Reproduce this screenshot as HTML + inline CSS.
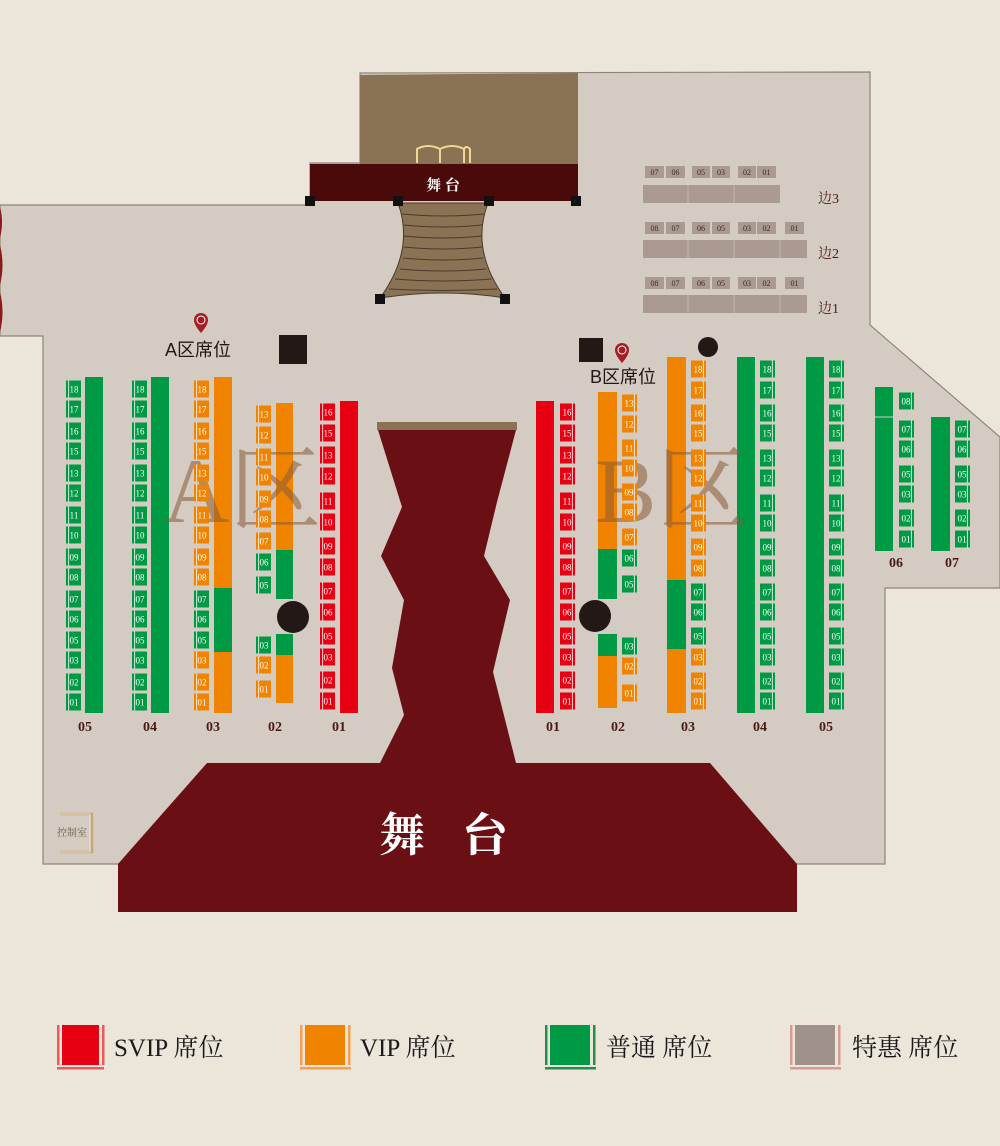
<!DOCTYPE html>
<html><head><meta charset="utf-8"><style>
html,body{margin:0;padding:0;background:#ece6da;}
svg{display:block}
</style></head><body>
<svg width="1000" height="1146" viewBox="0 0 1000 1146" xmlns="http://www.w3.org/2000/svg" font-family="'Liberation Serif','Noto Serif CJK SC',serif">
<defs>
<symbol id="L" overflow="visible"><rect x="0" y="0" width="15" height="17"/><rect x="2.2" y="0" width="0.9" height="17" fill="#fff" opacity="0.9"/></symbol>
<symbol id="R" overflow="visible"><rect x="0" y="0" width="15" height="17"/><rect x="11.9" y="0" width="0.9" height="17" fill="#fff" opacity="0.9"/></symbol>
</defs>
<rect width="1000" height="1146" fill="#ece6da"/>
<!-- floor -->
<polygon points="0,205 310,205 310,163 360,163 360,73 870,72 870,325 1000,437 1000,588 885,588 885,864 43,864 43,336 0,336" fill="#d4ccc3" stroke="#8e8479" stroke-width="1.2"/>
<!-- curtains left -->
<path d="M0,207 Q4,222 0,238 Z M0,245 Q5,265 0,285 Z M0,292 Q5,312 0,332 Z" fill="#8a1a1a"/>
<!-- upper stage -->
<polygon points="360,75 578,73 578,164 360,164" fill="#8a7355"/>
<g fill="none" stroke="#f0d890" stroke-width="2">
<path d="M417,163 V149 Q428,143 440,149 V163 M440,149 Q452,143 464,149 V163 M470,163 V149 Q466,145 464,149"/>
</g>
<rect x="310" y="164" width="268" height="37" fill="#4a0a0a"/>
<text x="443" y="190" fill="#fff" font-size="15" font-weight="bold" text-anchor="middle">舞 台</text>
<path d="M398,203 L488,203 Q470,250 505,298 Q443,288 380,298 Q415,250 398,203 Z" fill="#8a7355" stroke="#4a3a2a" stroke-width="1"/>
<g stroke="#4a3a2a" stroke-width="0.9" fill="none">
<path d="M402,214 Q443,218 484,214"/><path d="M404,225 Q443,229 482,225"/><path d="M404,236 Q443,240 482,236"/><path d="M404,247 Q443,251 482,247"/><path d="M403,258 Q443,262 483,258"/><path d="M400,269 Q443,273 486,269"/><path d="M395,279 Q443,283 491,279"/><path d="M389,289 Q443,292 497,289"/>
</g>
<g fill="#111"><rect x="305" y="196" width="10" height="10"/><rect x="571" y="196" width="10" height="10"/><rect x="393" y="196" width="10" height="10"/><rect x="484" y="196" width="10" height="10"/><rect x="375" y="294" width="10" height="10"/><rect x="500" y="294" width="10" height="10"/></g>
<!-- side rows -->
<g fill="#aa9a92">
<rect x="643" y="185" width="137" height="18"/>
<rect x="643" y="240" width="164" height="18"/>
<rect x="643" y="295" width="164" height="18"/>
</g>
<g stroke="#c9c0b8" stroke-width="0.8"><path d="M688,185V203M734,185V203M688,240V258M734,240V258M780,240V258M688,295V313M734,295V313M780,295V313"/></g>
<g fill="#aa9a92">
<rect x="645" y="166" width="19" height="12"/><rect x="666" y="166" width="19" height="12"/><rect x="692" y="166" width="18" height="12"/><rect x="712" y="166" width="18" height="12"/><rect x="738" y="166" width="18" height="12"/><rect x="757" y="166" width="19" height="12"/>
<rect x="645" y="222" width="19" height="12"/><rect x="666" y="222" width="19" height="12"/><rect x="692" y="222" width="18" height="12"/><rect x="712" y="222" width="18" height="12"/><rect x="738" y="222" width="18" height="12"/><rect x="757" y="222" width="19" height="12"/><rect x="785" y="222" width="19" height="12"/>
<rect x="645" y="277" width="19" height="12"/><rect x="666" y="277" width="19" height="12"/><rect x="692" y="277" width="18" height="12"/><rect x="712" y="277" width="18" height="12"/><rect x="738" y="277" width="18" height="12"/><rect x="757" y="277" width="19" height="12"/><rect x="785" y="277" width="19" height="12"/>
</g>
<g fill="#3a2a24" font-size="8" text-anchor="middle">
<text x="654.5" y="175">07</text><text x="675.5" y="175">06</text><text x="701" y="175">05</text><text x="721" y="175">03</text><text x="747" y="175">02</text><text x="766.5" y="175">01</text>
<text x="654.5" y="231">08</text><text x="675.5" y="231">07</text><text x="701" y="231">06</text><text x="721" y="231">05</text><text x="747" y="231">03</text><text x="766.5" y="231">02</text><text x="794.5" y="231">01</text>
<text x="654.5" y="286">08</text><text x="675.5" y="286">07</text><text x="701" y="286">06</text><text x="721" y="286">05</text><text x="747" y="286">03</text><text x="766.5" y="286">02</text><text x="794.5" y="286">01</text>
</g>
<g fill="#4a1a14" font-size="14"><text x="818" y="203">边3</text><text x="818" y="258">边2</text><text x="818" y="313">边1</text></g>
<!-- pillars / markers -->
<rect x="279" y="335" width="28" height="29" fill="#231815"/>
<rect x="579" y="338" width="24" height="24" fill="#231815"/>
<circle cx="708" cy="347" r="10" fill="#231815"/>
<circle cx="293" cy="617" r="16" fill="#231815"/>
<circle cx="595" cy="616" r="16" fill="#231815"/>
<g fill="#a51e22"><path d="M194,320 a7,7 0 1 1 14,0 q0,5 -7,13 q-7,-8 -7,-13z"/><path d="M615,350 a7,7 0 1 1 14,0 q0,5 -7,13 q-7,-8 -7,-13z"/></g>
<circle cx="201" cy="320" r="4" fill="none" stroke="#fff" stroke-width="1"/><circle cx="622" cy="350" r="4" fill="none" stroke="#fff" stroke-width="1"/>
<g font-family="'Liberation Sans','Noto Sans CJK SC',sans-serif" font-size="18" fill="#231815"><text x="165" y="356">A区席位</text><text x="590" y="383">B区席位</text></g>
<!-- runway -->
<rect x="377" y="422" width="140" height="8" fill="#8a7355"/>
<polygon points="378,430 516,430 497,502 484,556 510,600 493,672 516,763 380,763 404,715 392,668 404,600 381,556 402,507" fill="#6a1014"/>
<!-- lower stage -->
<polygon points="207,763 710,763 797,864 797,912 118,912 118,864" fill="#6a1014"/>
<g fill="#fff" font-size="46" font-weight="bold" text-anchor="middle" font-family="'Noto Serif CJK SC',serif"><text x="402" y="851">舞</text><text x="485" y="851">台</text></g>
<!-- control room -->
<path d="M60,814 H92 V852 H60" fill="none" stroke="#c8a878" stroke-width="2.5"/>
<path d="M60,814 H90 V852 H60" fill="none" stroke="#f4ead8" stroke-width="0.8"/>
<text x="72" y="836" font-size="10" fill="#6b5a45" text-anchor="middle">控制室</text>

<!-- bars A -->
<rect x="85" y="377" width="18" height="336" fill="#009a44"/>
<rect x="151" y="377" width="18" height="336" fill="#009a44"/>
<rect x="214" y="377" width="18" height="211" fill="#f08300"/><rect x="214" y="588" width="18" height="64" fill="#009a44"/><rect x="214" y="652" width="18" height="61" fill="#f08300"/>
<rect x="276" y="403" width="17" height="147" fill="#f08300"/><rect x="276" y="550" width="17" height="49" fill="#009a44"/><rect x="276" y="634" width="17" height="21" fill="#009a44"/><rect x="276" y="655" width="17" height="48" fill="#f08300"/>
<rect x="340" y="401" width="18" height="312" fill="#e60012"/>
<!-- bars B -->
<rect x="536" y="401" width="18" height="312" fill="#e60012"/>
<rect x="598" y="392" width="19" height="157" fill="#f08300"/><rect x="598" y="549" width="19" height="50" fill="#009a44"/><rect x="598" y="634" width="19" height="22" fill="#009a44"/><rect x="598" y="656" width="19" height="52" fill="#f08300"/>
<rect x="667" y="357" width="19" height="223" fill="#f08300"/><rect x="667" y="580" width="19" height="69" fill="#009a44"/><rect x="667" y="649" width="19" height="64" fill="#f08300"/>
<rect x="737" y="357" width="18" height="356" fill="#009a44"/>
<rect x="806" y="357" width="18" height="356" fill="#009a44"/>
<rect x="875" y="387" width="18" height="164" fill="#009a44"/><line x1="875" y1="417" x2="893" y2="417" stroke="#d4ccc3" stroke-width="1"/>
<rect x="931" y="417" width="19" height="134" fill="#009a44"/>

<!-- watermark -->
<g fill="#8a5a38" opacity="0.55" font-size="92" font-family="'Liberation Serif','Noto Serif CJK SC',serif"><text x="163" y="522">A区</text><text x="595" y="522">B区</text></g>

<g fill="#009a44">
<use href="#L" x="66" y="380.5"/><use href="#L" x="66" y="400.5"/><use href="#L" x="66" y="422.5"/><use href="#L" x="66" y="442.5"/><use href="#L" x="66" y="464.5"/><use href="#L" x="66" y="484.5"/><use href="#L" x="66" y="506.5"/><use href="#L" x="66" y="526.5"/><use href="#L" x="66" y="548.5"/><use href="#L" x="66" y="568.5"/><use href="#L" x="66" y="590.5"/><use href="#L" x="66" y="610.5"/><use href="#L" x="66" y="631.5"/><use href="#L" x="66" y="651.5"/><use href="#L" x="66" y="673.5"/><use href="#L" x="66" y="693.5"/>
<use href="#L" x="132" y="380.5"/><use href="#L" x="132" y="400.5"/><use href="#L" x="132" y="422.5"/><use href="#L" x="132" y="442.5"/><use href="#L" x="132" y="464.5"/><use href="#L" x="132" y="484.5"/><use href="#L" x="132" y="506.5"/><use href="#L" x="132" y="526.5"/><use href="#L" x="132" y="548.5"/><use href="#L" x="132" y="568.5"/><use href="#L" x="132" y="590.5"/><use href="#L" x="132" y="610.5"/><use href="#L" x="132" y="631.5"/><use href="#L" x="132" y="651.5"/><use href="#L" x="132" y="673.5"/><use href="#L" x="132" y="693.5"/>
<use href="#L" x="194" y="590.5"/><use href="#L" x="194" y="610.5"/><use href="#L" x="194" y="631.5"/>
<use href="#L" x="256" y="553.5"/><use href="#L" x="256" y="576.5"/><use href="#L" x="256" y="636.5"/>
</g>
<g fill="#f08300">
<use href="#L" x="194" y="380.5"/><use href="#L" x="194" y="400.5"/><use href="#L" x="194" y="422.5"/><use href="#L" x="194" y="442.5"/><use href="#L" x="194" y="464.5"/><use href="#L" x="194" y="484.5"/><use href="#L" x="194" y="506.5"/><use href="#L" x="194" y="526.5"/><use href="#L" x="194" y="548.5"/><use href="#L" x="194" y="568.5"/><use href="#L" x="194" y="651.5"/><use href="#L" x="194" y="673.5"/><use href="#L" x="194" y="693.5"/>
<use href="#L" x="256" y="405.5"/><use href="#L" x="256" y="426.5"/><use href="#L" x="256" y="448.5"/><use href="#L" x="256" y="468.5"/><use href="#L" x="256" y="490.5"/><use href="#L" x="256" y="510.5"/><use href="#L" x="256" y="532.5"/><use href="#L" x="256" y="656.5"/><use href="#L" x="256" y="680.5"/>
</g>
<g fill="#e60012">
<use href="#L" x="320" y="403.5"/><use href="#L" x="320" y="424.5"/><use href="#L" x="320" y="446.5"/><use href="#L" x="320" y="467.5"/><use href="#L" x="320" y="492.5"/><use href="#L" x="320" y="513.5"/><use href="#L" x="320" y="537.5"/><use href="#L" x="320" y="558.5"/><use href="#L" x="320" y="582.5"/><use href="#L" x="320" y="603.5"/><use href="#L" x="320" y="627.5"/><use href="#L" x="320" y="648.5"/><use href="#L" x="320" y="671.5"/><use href="#L" x="320" y="692.5"/>
<use href="#R" x="560" y="403.5"/><use href="#R" x="560" y="424.5"/><use href="#R" x="560" y="446.5"/><use href="#R" x="560" y="467.5"/><use href="#R" x="560" y="492.5"/><use href="#R" x="560" y="513.5"/><use href="#R" x="560" y="537.5"/><use href="#R" x="560" y="558.5"/><use href="#R" x="560" y="582.5"/><use href="#R" x="560" y="603.5"/><use href="#R" x="560" y="627.5"/><use href="#R" x="560" y="648.5"/><use href="#R" x="560" y="671.5"/><use href="#R" x="560" y="692.5"/>
</g>
<g fill="#f08300">
<use href="#R" x="622" y="394.5"/><use href="#R" x="622" y="415.5"/><use href="#R" x="622" y="439.5"/><use href="#R" x="622" y="459.5"/><use href="#R" x="622" y="483.5"/><use href="#R" x="622" y="503.5"/><use href="#R" x="622" y="528.5"/><use href="#R" x="622" y="657.5"/><use href="#R" x="622" y="684.5"/>
<use href="#R" x="691" y="360.5"/><use href="#R" x="691" y="381.5"/><use href="#R" x="691" y="404.5"/><use href="#R" x="691" y="424.5"/><use href="#R" x="691" y="449.5"/><use href="#R" x="691" y="469.5"/><use href="#R" x="691" y="494.5"/><use href="#R" x="691" y="514.5"/><use href="#R" x="691" y="538.5"/><use href="#R" x="691" y="559.5"/><use href="#R" x="691" y="648.5"/><use href="#R" x="691" y="672.5"/><use href="#R" x="691" y="692.5"/>
</g>
<g fill="#009a44">
<use href="#R" x="622" y="549.5"/><use href="#R" x="622" y="575.5"/><use href="#R" x="622" y="637.5"/>
<use href="#R" x="691" y="583.5"/><use href="#R" x="691" y="603.5"/><use href="#R" x="691" y="627.5"/>
<use href="#R" x="760" y="360.5"/><use href="#R" x="760" y="381.5"/><use href="#R" x="760" y="404.5"/><use href="#R" x="760" y="424.5"/><use href="#R" x="760" y="449.5"/><use href="#R" x="760" y="469.5"/><use href="#R" x="760" y="494.5"/><use href="#R" x="760" y="514.5"/><use href="#R" x="760" y="538.5"/><use href="#R" x="760" y="559.5"/><use href="#R" x="760" y="583.5"/><use href="#R" x="760" y="603.5"/><use href="#R" x="760" y="627.5"/><use href="#R" x="760" y="648.5"/><use href="#R" x="760" y="672.5"/><use href="#R" x="760" y="692.5"/>
<use href="#R" x="829" y="360.5"/><use href="#R" x="829" y="381.5"/><use href="#R" x="829" y="404.5"/><use href="#R" x="829" y="424.5"/><use href="#R" x="829" y="449.5"/><use href="#R" x="829" y="469.5"/><use href="#R" x="829" y="494.5"/><use href="#R" x="829" y="514.5"/><use href="#R" x="829" y="538.5"/><use href="#R" x="829" y="559.5"/><use href="#R" x="829" y="583.5"/><use href="#R" x="829" y="603.5"/><use href="#R" x="829" y="627.5"/><use href="#R" x="829" y="648.5"/><use href="#R" x="829" y="672.5"/><use href="#R" x="829" y="692.5"/>
<use href="#R" x="899" y="392.5"/><use href="#R" x="899" y="420.5"/><use href="#R" x="899" y="440.5"/><use href="#R" x="899" y="465.5"/><use href="#R" x="899" y="485.5"/><use href="#R" x="899" y="509.5"/><use href="#R" x="899" y="530.5"/>
<use href="#R" x="955" y="420.5"/><use href="#R" x="955" y="440.5"/><use href="#R" x="955" y="465.5"/><use href="#R" x="955" y="485.5"/><use href="#R" x="955" y="509.5"/><use href="#R" x="955" y="530.5"/>
</g>

<g fill="#fff" font-size="9" text-anchor="middle">
<text x="74" y="392.5">18</text><text x="74" y="412.5">17</text><text x="74" y="434.5">16</text><text x="74" y="454.5">15</text><text x="74" y="476.5">13</text><text x="74" y="496.5">12</text><text x="74" y="518.5">11</text><text x="74" y="538.5">10</text><text x="74" y="560.5">09</text><text x="74" y="580.5">08</text><text x="74" y="602.5">07</text><text x="74" y="622.5">06</text><text x="74" y="643.5">05</text><text x="74" y="663.5">03</text><text x="74" y="685.5">02</text><text x="74" y="705.5">01</text>
<text x="140" y="392.5">18</text><text x="140" y="412.5">17</text><text x="140" y="434.5">16</text><text x="140" y="454.5">15</text><text x="140" y="476.5">13</text><text x="140" y="496.5">12</text><text x="140" y="518.5">11</text><text x="140" y="538.5">10</text><text x="140" y="560.5">09</text><text x="140" y="580.5">08</text><text x="140" y="602.5">07</text><text x="140" y="622.5">06</text><text x="140" y="643.5">05</text><text x="140" y="663.5">03</text><text x="140" y="685.5">02</text><text x="140" y="705.5">01</text>
<text x="202" y="392.5">18</text><text x="202" y="412.5">17</text><text x="202" y="434.5">16</text><text x="202" y="454.5">15</text><text x="202" y="476.5">13</text><text x="202" y="496.5">12</text><text x="202" y="518.5">11</text><text x="202" y="538.5">10</text><text x="202" y="560.5">09</text><text x="202" y="580.5">08</text><text x="202" y="602.5">07</text><text x="202" y="622.5">06</text><text x="202" y="643.5">05</text><text x="202" y="663.5">03</text><text x="202" y="685.5">02</text><text x="202" y="705.5">01</text>
<text x="264" y="417.5">13</text><text x="264" y="438.5">12</text><text x="264" y="460.5">11</text><text x="264" y="480.5">10</text><text x="264" y="502.5">09</text><text x="264" y="522.5">08</text><text x="264" y="544.5">07</text><text x="264" y="565.5">06</text><text x="264" y="588.5">05</text><text x="264" y="648.5">03</text><text x="264" y="668.5">02</text><text x="264" y="692.5">01</text>
<text x="328" y="415.5">16</text><text x="328" y="436.5">15</text><text x="328" y="458.5">13</text><text x="328" y="479.5">12</text><text x="328" y="504.5">11</text><text x="328" y="525.5">10</text><text x="328" y="549.5">09</text><text x="328" y="570.5">08</text><text x="328" y="594.5">07</text><text x="328" y="615.5">06</text><text x="328" y="639.5">05</text><text x="328" y="660.5">03</text><text x="328" y="683.5">02</text><text x="328" y="704.5">01</text>
<text x="567" y="415.5">16</text><text x="567" y="436.5">15</text><text x="567" y="458.5">13</text><text x="567" y="479.5">12</text><text x="567" y="504.5">11</text><text x="567" y="525.5">10</text><text x="567" y="549.5">09</text><text x="567" y="570.5">08</text><text x="567" y="594.5">07</text><text x="567" y="615.5">06</text><text x="567" y="639.5">05</text><text x="567" y="660.5">03</text><text x="567" y="683.5">02</text><text x="567" y="704.5">01</text>
<text x="629" y="406.5">13</text><text x="629" y="427.5">12</text><text x="629" y="451.5">11</text><text x="629" y="471.5">10</text><text x="629" y="495.5">09</text><text x="629" y="515.5">08</text><text x="629" y="540.5">07</text><text x="629" y="561.5">06</text><text x="629" y="587.5">05</text><text x="629" y="649.5">03</text><text x="629" y="669.5">02</text><text x="629" y="696.5">01</text>
<text x="698" y="372.5">18</text><text x="698" y="393.5">17</text><text x="698" y="416.5">16</text><text x="698" y="436.5">15</text><text x="698" y="461.5">13</text><text x="698" y="481.5">12</text><text x="698" y="506.5">11</text><text x="698" y="526.5">10</text><text x="698" y="550.5">09</text><text x="698" y="571.5">08</text><text x="698" y="595.5">07</text><text x="698" y="615.5">06</text><text x="698" y="639.5">05</text><text x="698" y="660.5">03</text><text x="698" y="684.5">02</text><text x="698" y="704.5">01</text>
<text x="767" y="372.5">18</text><text x="767" y="393.5">17</text><text x="767" y="416.5">16</text><text x="767" y="436.5">15</text><text x="767" y="461.5">13</text><text x="767" y="481.5">12</text><text x="767" y="506.5">11</text><text x="767" y="526.5">10</text><text x="767" y="550.5">09</text><text x="767" y="571.5">08</text><text x="767" y="595.5">07</text><text x="767" y="615.5">06</text><text x="767" y="639.5">05</text><text x="767" y="660.5">03</text><text x="767" y="684.5">02</text><text x="767" y="704.5">01</text>
<text x="836" y="372.5">18</text><text x="836" y="393.5">17</text><text x="836" y="416.5">16</text><text x="836" y="436.5">15</text><text x="836" y="461.5">13</text><text x="836" y="481.5">12</text><text x="836" y="506.5">11</text><text x="836" y="526.5">10</text><text x="836" y="550.5">09</text><text x="836" y="571.5">08</text><text x="836" y="595.5">07</text><text x="836" y="615.5">06</text><text x="836" y="639.5">05</text><text x="836" y="660.5">03</text><text x="836" y="684.5">02</text><text x="836" y="704.5">01</text>
<text x="906" y="404.5">08</text><text x="906" y="432.5">07</text><text x="906" y="452.5">06</text><text x="906" y="477.5">05</text><text x="906" y="497.5">03</text><text x="906" y="521.5">02</text><text x="906" y="542.5">01</text>
<text x="962" y="432.5">07</text><text x="962" y="452.5">06</text><text x="962" y="477.5">05</text><text x="962" y="497.5">03</text><text x="962" y="521.5">02</text><text x="962" y="542.5">01</text>
</g>
<g fill="#4a1a14" font-size="14" font-weight="bold" text-anchor="middle">
<text x="85" y="731">05</text><text x="150" y="731">04</text><text x="213" y="731">03</text><text x="275" y="731">02</text><text x="339" y="731">01</text>
<text x="553" y="731">01</text><text x="618" y="731">02</text><text x="688" y="731">03</text><text x="760" y="731">04</text><text x="826" y="731">05</text>
<text x="896" y="567">06</text><text x="952" y="567">07</text>
</g>

<g>
<rect x="57" y="1025" width="2.5" height="40" fill="#e95a5a"/><rect x="62" y="1025" width="37" height="40" fill="#e60012"/><rect x="102" y="1025" width="2.5" height="40" fill="#e95a5a"/><rect x="57" y="1067" width="47" height="2.5" fill="#e95a5a"/>
<rect x="300" y="1025" width="2.5" height="40" fill="#f5a050"/><rect x="305" y="1025" width="40" height="40" fill="#f08300"/><rect x="348" y="1025" width="2.5" height="40" fill="#f5a050"/><rect x="300" y="1067" width="51" height="2.5" fill="#f5a050"/>
<rect x="545" y="1025" width="2.5" height="40" fill="#2a8a4a"/><rect x="550" y="1025" width="40" height="40" fill="#009a44"/><rect x="593" y="1025" width="2.5" height="40" fill="#2a8a4a"/><rect x="545" y="1067" width="51" height="2.5" fill="#2a8a4a"/>
<rect x="790" y="1025" width="2.5" height="40" fill="#d99a96"/><rect x="795" y="1025" width="40" height="40" fill="#a0928a"/><rect x="838" y="1025" width="2.5" height="40" fill="#d99a96"/><rect x="790" y="1067" width="51" height="2.5" fill="#d99a96"/>
</g>
<g fill="#1a1a1a" font-size="25" font-family="'Liberation Serif','Noto Serif CJK SC',serif">
<text x="114" y="1056">SVIP 席位</text><text x="360" y="1056">VIP 席位</text><text x="606" y="1056">普通 席位</text><text x="852" y="1056">特惠 席位</text>
</g>
</svg>
</body></html>
